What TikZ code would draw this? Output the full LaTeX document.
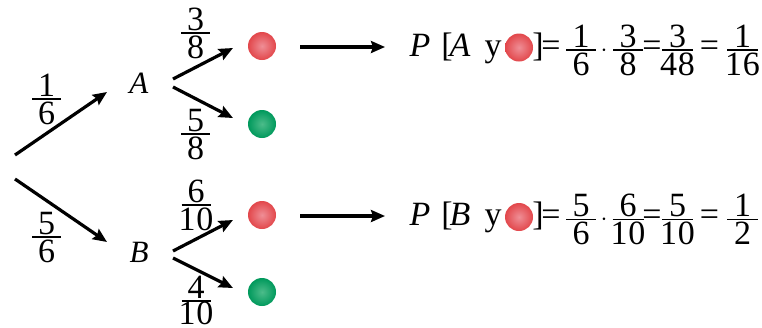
\documentclass[tikz,border=0pt]{standalone}
\usepackage{fontspec}
\setmainfont{Liberation Serif}
\usetikzlibrary{arrows.meta}
\definecolor{redout}{HTML}{E2474B}
\definecolor{redin}{HTML}{EF8E96}
\definecolor{greenout}{HTML}{00995C}
\definecolor{greenin}{HTML}{4CBC8A}
\tikzset{
  arr/.style={line width=3.2pt,-{Stealth[length=14pt,width=12pt,inset=2pt]}},
  fbar/.style={line width=1.5pt},
  txt/.style={inner sep=0pt,anchor=base},
  dig/.style={txt,text height=17pt,text depth=0pt},
  redball/.style={circle,minimum size=28pt,inner sep=0pt,inner color=redin,outer color=redout},
  greenball/.style={circle,minimum size=28pt,inner sep=0pt,inner color=greenin,outer color=greenout}
}
% fraction: name, x, bar y, half width, numerator, denominator
\newcommand\fr[6]{%
  \node[dig] (#1n) at (#2,#3-3) {#5};
  \draw[fbar] (#2-#4,#3) -- (#2+#4,#3);
  \node[dig] (#1d) at (#2,#3+25) {#6};}
\begin{document}
\begin{tikzpicture}[x=1pt,y=-1pt,font=\fontsize{34}{40}\selectfont]
\useasboundingbox (0,0) rectangle (762,327);
% tree nodes
\coordinate (r1) at (15,155);
\coordinate (r2) at (15,179);
\coordinate (ra) at (107,92);
\coordinate (rb) at (107,242);
\node[txt,font=\fontsize{31}{36}\selectfont] (A) at (139,93) {\textit{A}};
\node[txt,font=\fontsize{31}{36}\selectfont] (B) at (139,262) {\textit{B}};
\coordinate (a1) at (173,79);
\coordinate (a2) at (173,87);
\coordinate (b1) at (173,251);
\coordinate (b2) at (173,258);
\coordinate (ta1) at (233,48);
\coordinate (ta2) at (233,118);
\coordinate (tb1) at (233,220);
\coordinate (tb2) at (233,288);
\node[redball] (ballA1) at (262,46) {};
\node[greenball] (ballA2) at (262,124) {};
\node[redball] (ballB1) at (262,215) {};
\node[greenball] (ballB2) at (262,292) {};
\draw[arr] (r1) -- (ra);
\draw[arr] (r2) -- (rb);
\draw[arr] (a1) -- (ta1);
\draw[arr] (a2) -- (ta2);
\draw[arr] (b1) -- (tb1);
\draw[arr] (b2) -- (tb2);
% branch fractions
\fr{fA}{46.5}{99}{14.5}{1}{6}
\fr{fB}{46.5}{237}{14.5}{5}{6}
\fr{fAr}{195.5}{33}{14.5}{3}{8}
\fr{fAg}{195.5}{134}{14.5}{5}{8}
\fr{fBr}{196}{205}{14.5}{6}{1\kern1pt0}
\node[dig] (fBgn) at (196,298) {4};
\draw[fbar] (181.5,301) -- (210.5,301);
\node[dig] (fBgd) at (196,324) {1\kern1pt0};
% result arrows
\coordinate (s1) at (300,47);
\coordinate (e1) at (385,47);
\coordinate (s2) at (300,216);
\coordinate (e2) at (385,216);
\draw[arr] (s1) -- (e1);
\draw[arr] (s2) -- (e2);
% equation 1
\node[txt] (P1) at (420,56) {\textit{P}};
\node[txt] (lb1) at (447,56) {[};
\node[txt] (A1) at (460,56) {\textit{A}};
\node[txt] (y1) at (493,56) {y};
\node[redball] (eb1) at (519,47.5) {};
\node[txt] (rb1) at (538,56) {]};
\node[txt] (eqa1) at (551,56) {=};
\fr{ea}{581}{50}{15}{1}{6}
\node[txt] (dot1) at (604,56) {$\cdot$};
\fr{eb}{628}{50}{15}{3}{8}
\node[txt] (eqb1) at (652,56) {=};
\fr{ec}{677.5}{50}{15.5}{3}{4\kern1pt8}
\node[txt] (eqc1) at (709.5,56) {=};
\fr{ed}{742.5}{50}{15.5}{1}{1\kern1pt6}
% equation 2
\node[txt] (P2) at (420,225.5) {\textit{P}};
\node[txt] (lb2) at (447,225.5) {[};
\node[txt] (B2) at (460,225.5) {\textit{B}};
\node[txt] (y2) at (493,225.5) {y};
\node[redball] (eb2) at (519,217) {};
\node[txt] (rb2) at (538,225.5) {]};
\node[txt] (eqa2) at (551,225.5) {=};
\fr{ga}{581}{219.5}{15}{5}{6}
\node[txt] (dot2) at (604,225.5) {$\cdot$};
\fr{gb}{628}{219.5}{15.5}{6}{1\kern1pt0}
\node[txt] (eqb2) at (652,225.5) {=};
\fr{gc}{677.5}{219.5}{15.5}{5}{1\kern1pt0}
\node[txt] (eqc2) at (709.5,225.5) {=};
\fr{gd}{742.5}{219.5}{15.5}{1}{2}
\end{tikzpicture}
\end{document}
